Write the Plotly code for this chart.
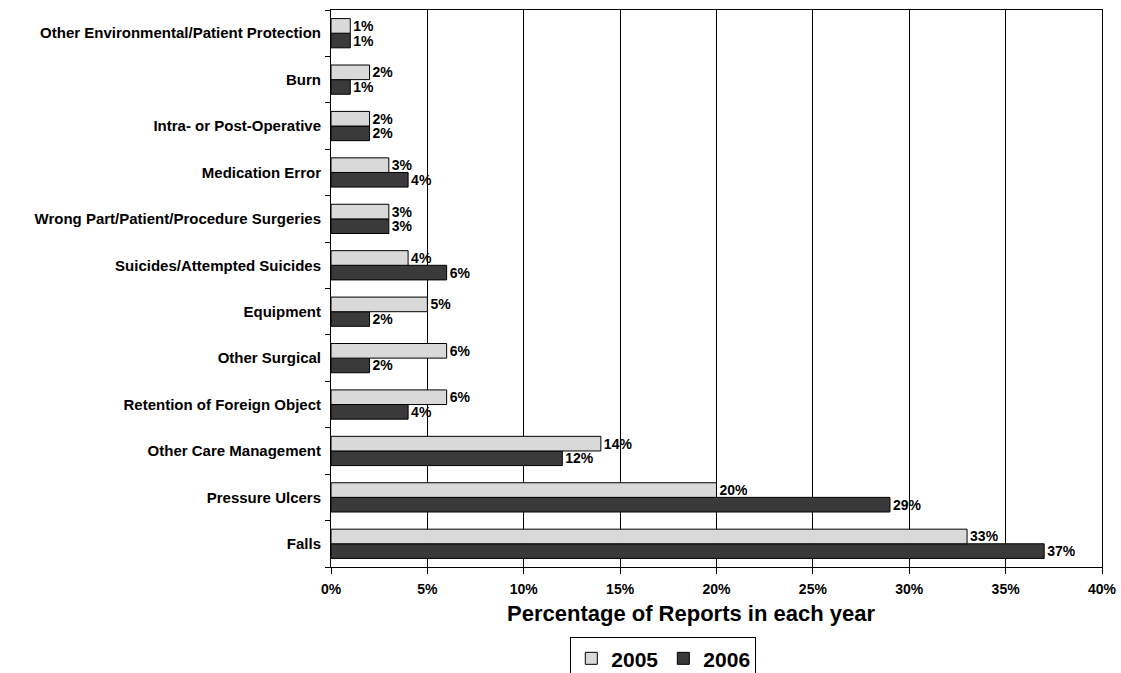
import plotly.graph_objects as go

categories = [
    "Falls", "Pressure Ulcers", "Other Care Management", "Retention of Foreign Object",
    "Other Surgical", "Equipment", "Suicides/Attempted Suicides",
    "Wrong Part/Patient/Procedure Surgeries", "Medication Error",
    "Intra- or Post-Operative", "Burn", "Other Environmental/Patient Protection",
]
values_2005 = [33, 20, 14, 6, 6, 5, 4, 3, 3, 2, 2, 1]
values_2006 = [37, 29, 12, 4, 2, 2, 6, 3, 4, 2, 1, 1]
tick_vals = [0, 5, 10, 15, 20, 25, 30, 35, 40]
tick_text = ["0%", "5%", "10%", "15%", "20%", "25%", "30%", "35%", "40%"]

FONT = "Arial, Liberation Sans, sans-serif"

fig = go.Figure()
fig.add_trace(go.Bar(
    y=categories, x=values_2006, name="2006", orientation="h",
    marker=dict(color="#3a3a3a", line=dict(color="black", width=1)),
    text=[f"{v}%" for v in values_2006], textposition="outside",
    textfont=dict(family=FONT, size=14, color="black", weight="bold"),
    constraintext="none", cliponaxis=False,
))
fig.add_trace(go.Bar(
    y=categories, x=values_2005, name="2005", orientation="h",
    marker=dict(color="#d9d9d9", line=dict(color="black", width=1)),
    text=[f"{v}%" for v in values_2005], textposition="outside",
    textfont=dict(family=FONT, size=14, color="black", weight="bold"),
    constraintext="none", cliponaxis=False,
))

fig.update_layout(
    width=1121, height=673,
    margin=dict(l=331, r=19, t=10, b=106, autoexpand=False),
    paper_bgcolor="white", plot_bgcolor="white",
    barmode="group", bargap=0.37, bargroupgap=0,
    font=dict(family=FONT, color="black"),
    showlegend=True,
    legend=dict(
        orientation="h", traceorder="reversed",
        x=0.431, xanchor="center", y=-0.126, yanchor="top",
        bordercolor="black", borderwidth=1,
        font=dict(family=FONT, size=21, color="black", weight="bold"),
        itemwidth=30, tracegroupgap=0,
    ),
    xaxis=dict(
        range=[0, 40], tickvals=tick_vals, ticktext=tick_text,
        showgrid=True, gridcolor="black", gridwidth=1,
        showline=True, linecolor="black", linewidth=1, mirror=True,
        ticks="outside", ticklen=6, tickcolor="black",
        tickfont=dict(family=FONT, size=14, color="black", weight="bold"),
        ticklabelstandoff=3,
        zeroline=False,
    ),
    yaxis=dict(
        showline=True, linecolor="black", linewidth=1, mirror=True,
        ticks="outside", ticklen=5, tickcolor="black", tickson="boundaries",
        tickfont=dict(family=FONT, size=15, color="black", weight="bold"),
        ticklabelstandoff=6,
        showgrid=False,
    ),
    annotations=[dict(
        text="Percentage of Reports in each year", xref="paper", yref="paper",
        x=0.467, y=-0.083, xanchor="center", yanchor="middle", showarrow=False,
        font=dict(family=FONT, size=22, color="black", weight="bold"),
    )],
)

fig.write_html("out.html")
